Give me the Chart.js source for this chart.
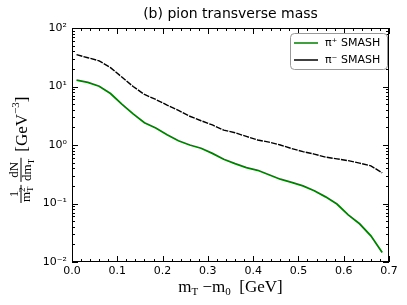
<!DOCTYPE html>
<html>
<head>
<meta charset="utf-8">
<script src="https://cdn.jsdelivr.net/npm/chart.js@4.4.0/dist/chart.umd.min.js"></script>
<style>
  html, body { margin: 0; padding: 0; background: #fff; }
  #wrap { width: 407px; height: 305px; }
</style>
</head>
<body>
<div id="wrap"><canvas id="spectrum"></canvas></div>
<script>
// m_T - m_0 bin centres [GeV]
const mtBins = [0.01, 0.035, 0.06, 0.085, 0.11, 0.135, 0.16, 0.185, 0.21, 0.235,
                0.26, 0.285, 0.31, 0.335, 0.36, 0.385, 0.41, 0.435, 0.46, 0.485,
                0.51, 0.535, 0.56, 0.585, 0.61, 0.635, 0.66, 0.685];
// 1/mT^2 dN/dmT [GeV^-3]
const piPlus  = [12.9, 11.8, 10.1, 7.6, 5.0, 3.4, 2.4, 1.95, 1.5, 1.18,
                 1.0, 0.88, 0.72, 0.57, 0.48, 0.41, 0.37, 0.31, 0.26, 0.23,
                 0.20, 0.165, 0.13, 0.098, 0.064, 0.045, 0.028, 0.0145];
const piMinus = [35, 31, 27.5, 21, 14.5, 10, 7.3, 6.0, 4.8, 3.9,
                 3.1, 2.6, 2.2, 1.8, 1.62, 1.4, 1.22, 1.12, 1.0, 0.87,
                 0.77, 0.7, 0.62, 0.58, 0.54, 0.49, 0.44, 0.335];
const seriesNames = ['π⁺ SMASH', 'π⁻ SMASH'];
const xTicks = [0, 0.1, 0.2, 0.3, 0.4, 0.5, 0.6, 0.7];
const yLabels = {'0.01': '10⁻²', '0.1': '10⁻¹', '1': '10⁰', '10': '10¹', '100': '10²'};

const SANS = '"DejaVu Sans", sans-serif';
const SERIF = '"Liberation Serif", "DejaVu Serif", serif';

function pts(ys) { return mtBins.map((x, i) => ({x: x, y: ys[i]})); }

// draw a row of text pieces: [text, size, dy]
function runs(ctx, x, y, parts) {
    let cx = x;
    parts.forEach(p => {
        ctx.font = p[1] + 'px ' + SERIF;
        ctx.fillText(p[0], cx, y + (p[2] || 0));
        cx += ctx.measureText(p[0]).width;
    });
    return cx - x;
}
function runsWidth(ctx, parts) {
    let w = 0;
    parts.forEach(p => { ctx.font = p[1] + 'px ' + SERIF; w += ctx.measureText(p[0]).width; });
    return w;
}

const decor = {
    id: 'decor',
    afterDraw(chart) {
        const ctx = chart.ctx, a = chart.chartArea;
        const xs = chart.scales.x, ys = chart.scales.y;
        ctx.save();
        ctx.strokeStyle = '#000';
        ctx.lineWidth = 1;
        ctx.strokeRect(a.left + 0.5, a.top + 0.5, a.right - a.left - 1, a.bottom - a.top - 1);

        // ticks inside, all four sides
        ctx.beginPath();
        for (let v = 0; v <= 0.7001; v += 0.02) {
            const px = Math.round(xs.getPixelForValue(v)) + 0.5;
            const major = Math.abs(v * 10 - Math.round(v * 10)) < 1e-6;
            const len = major ? 6 : 3;
            ctx.moveTo(px, a.bottom); ctx.lineTo(px, a.bottom - len);
            ctx.moveTo(px, a.top); ctx.lineTo(px, a.top + len);
        }
        for (let e = -2; e < 2; e++) {
            for (let m = 1; m <= 10; m++) {
                const py = Math.round(ys.getPixelForValue(m * Math.pow(10, e))) + 0.5;
                const len = (m === 1 || m === 10) ? 6 : 3;
                ctx.moveTo(a.left, py); ctx.lineTo(a.left + len, py);
                ctx.moveTo(a.right, py); ctx.lineTo(a.right - len, py);
            }
        }
        ctx.stroke();

        // title
        ctx.fillStyle = '#000';
        ctx.font = '14px ' + SANS;
        ctx.textAlign = 'center';
        ctx.textBaseline = 'alphabetic';
        ctx.fillText('(b) pion transverse mass', (a.left + a.right) / 2, 18);

        // x label
        ctx.textAlign = 'left';
        const xl = [['m', 17], ['T', 11, 3], [' −m', 17], ['0', 11, 3], ['  [GeV]', 17]];
        const xw = runsWidth(ctx, xl);
        runs(ctx, (a.left + a.right) / 2 - xw / 2, 292, xl);

        // y label (rotated)
        ctx.save();
        ctx.translate(21, 145);
        ctx.rotate(-Math.PI / 2);
        let cx = -58;
        // 1 / mT^2
        ctx.font = '13px ' + SERIF;
        const mw = ctx.measureText('m').width;
        const n1w = ctx.measureText('1').width;
        const d1w = mw + 6;
        const f1w = Math.max(d1w, n1w) + 2;
        ctx.fillText('1', cx + (f1w - n1w) / 2, -3);
        const dx1 = cx + (f1w - d1w) / 2;
        ctx.fillText('m', dx1, 9);
        ctx.font = '9px ' + SERIF;
        ctx.fillText('2', dx1 + mw, 4);
        ctx.fillText('T', dx1 + mw, 12);
        ctx.fillRect(cx, -0.5, f1w, 1);
        cx += f1w + 3;
        // dN / dmT
        const num2 = [['dN', 13]];
        const den2 = [['dm', 13], ['T', 9, 3]];
        const n2w = runsWidth(ctx, num2), d2w = runsWidth(ctx, den2);
        const f2w = Math.max(n2w, d2w) + 2;
        runs(ctx, cx + (f2w - n2w) / 2, -3, num2);
        runs(ctx, cx + (f2w - d2w) / 2, 10, den2);
        ctx.fillRect(cx, -0.5, f2w, 1);
        cx += f2w + 6;
        runs(ctx, cx, 6, [['[GeV', 17], ['−3', 11, -8], [']', 17]]);
        ctx.restore();

        // legend
        const lx = 290.5, ly = 33.5, lw = 97, lh = 36;
        ctx.beginPath();
        ctx.roundRect(lx, ly, lw, lh, 4);
        ctx.fillStyle = '#fff';
        ctx.fill();
        ctx.strokeStyle = '#999';
        ctx.stroke();
        const cols = ['#008000', '#000000'];
        ctx.font = '11px ' + SANS;
        ctx.textBaseline = 'middle';
        seriesNames.forEach((name, i) => {
            const yy = 43 + i * 17;
            ctx.strokeStyle = cols[i];
            ctx.lineWidth = 1.5;
            ctx.beginPath();
            ctx.moveTo(294, yy); ctx.lineTo(318, yy);
            ctx.stroke();
            ctx.fillStyle = '#000';
            ctx.fillText(name, 325, yy);
        });
        ctx.restore();
    }
};

new Chart(document.getElementById('spectrum'), {
    type: 'line',
    data: {
        datasets: [
            { label: seriesNames[0], data: pts(piPlus), borderColor: '#008000', borderWidth: 1.8,
              pointRadius: 0, tension: 0, fill: false },
            { label: seriesNames[1], data: pts(piMinus), borderColor: '#000000', borderWidth: 1.4,
              borderDash: [6, 1.2], pointRadius: 0, tension: 0, fill: false }
        ]
    },
    options: {
        responsive: true,
        maintainAspectRatio: false,
        animation: false,
        events: [],
        layout: { padding: { top: 28, right: 18, left: 0, bottom: 0 } },
        plugins: { legend: { display: false }, tooltip: { enabled: false } },
        scales: {
            x: {
                type: 'linear', min: 0, max: 0.7,
                grid: { display: false, drawTicks: false },
                border: { display: false },
                afterBuildTicks: s => { s.ticks = xTicks.map(v => ({value: v})); },
                afterFit: s => { s.height = 43; },
                ticks: { padding: 3, color: '#000', font: { family: SANS, size: 11 },
                         maxRotation: 0, autoSkip: false,
                         callback: v => v.toFixed(1) }
            },
            y: {
                type: 'logarithmic', min: 0.01, max: 100,
                grid: { display: false, drawTicks: false },
                border: { display: false },
                afterBuildTicks: s => { s.ticks = [0.01, 0.1, 1, 10, 100].map(v => ({value: v})); },
                afterFit: s => { s.width = 72; },
                ticks: { padding: 5, color: '#000', font: { family: SANS, size: 11 },
                         autoSkip: false,
                         callback: v => yLabels[String(v)] || '' }
            }
        }
    },
    plugins: [decor]
});
</script>
</body>
</html>
